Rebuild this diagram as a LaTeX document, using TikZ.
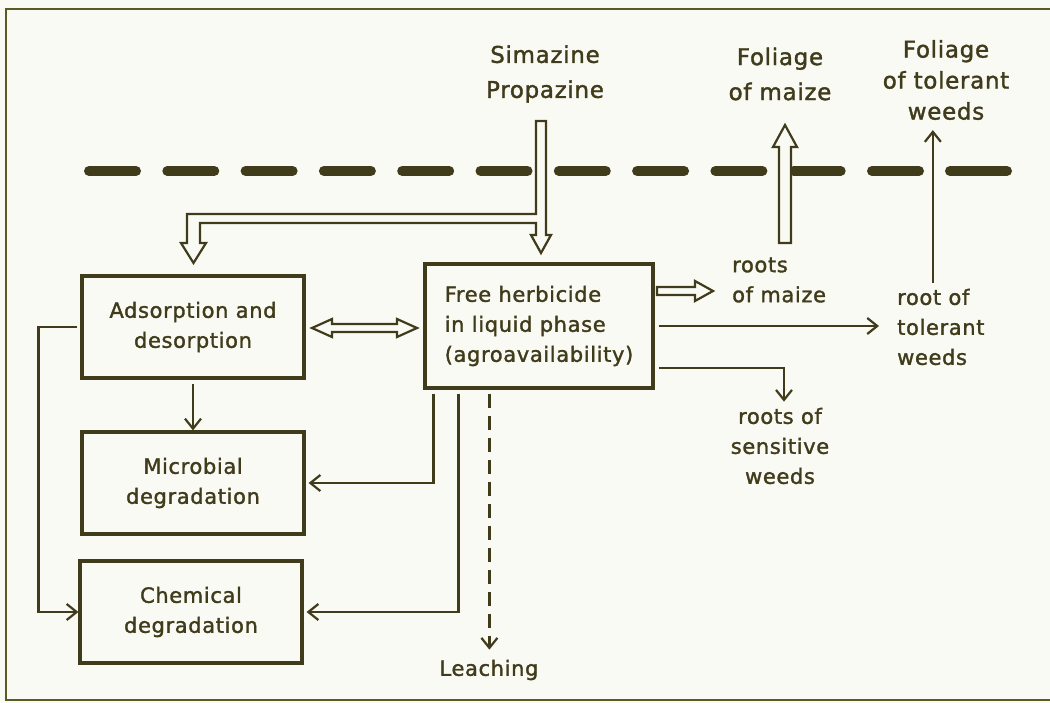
\documentclass[tikz,border=0pt]{standalone}
\usepackage{fontspec}
\setmainfont{DejaVu Sans}[LetterSpace=3,FakeBold=1.5]
\usetikzlibrary{arrows.meta}
\definecolor{ink}{HTML}{403B1A}
\definecolor{frame}{HTML}{5A5A24}
\definecolor{paper}{HTML}{FAFAF5}
\begin{document}
\begin{tikzpicture}[x=1pt,y=-1pt,
  box/.style={draw=ink, line width=3.2pt, minimum width=222pt, minimum height=102pt, align=center, inner sep=0pt, font=\fontsize{21}{30}\selectfont, text=ink},
  lbl/.style={text=ink, align=center, inner sep=0pt, font=\fontsize{21}{30}\selectfont},
  toplbl/.style={text=ink, align=center, inner sep=0pt, font=\fontsize{23}{35}\selectfont},
  thinarrow/.style={draw=ink, line width=2.2pt, -{Straight Barb[length=10pt,width=16pt,line width=2.2pt]}},
  hollow/.style={draw=ink, line width=2.2pt, fill=paper, line join=miter},
  soil/.style={draw=ink, line width=10pt, line cap=round}]
\useasboundingbox (0,0) rectangle (1050,703);
\fill[paper] (0,0) rectangle (1050,703);
% frame
\draw[frame, line width=2.4pt] (1050,9) -- (6,9) -- (6,700) -- (1050,700);
% soil surface
\foreach \k in {0,...,10} \draw[soil] ({89+78.3*\k},171) -- ++(47,0);
\draw[soil] (950,171) -- (1007,171);
% boxes
\node[box] (ads) at (193,327) {Adsorption and\\desorption};
\node[box] (mic) at (193,483) {Microbial\\degradation};
\node[box] (che) at (191,612) {Chemical\\degradation};
\node[box, minimum width=228pt, minimum height=124pt, align=left] (free) at (539,326) {Free herbicide\\in liquid phase\\(agroavailability)};
% labels
\node[toplbl] (sim) at (545,74) {Simazine\\Propazine};
\node[toplbl] (folm) at (780,74) {Foliage\\of maize};
\node[toplbl, font=\fontsize{23}{31}\selectfont] (folt) at (946,80) {Foliage\\of tolerant\\weeds};
\node[lbl, align=left, anchor=west] (rmaize) at (732,280) {roots\\of maize};
\node[lbl, align=left, anchor=west] (rtol) at (897,327) {root of\\tolerant\\weeds};
\node[lbl] (rsens) at (780,446) {roots of\\sensitive\\weeds};
\node[lbl] (leach) at (489,670) {Leaching};
% hollow arrows
\draw[hollow] (536,121) -- (546,121) -- (546,235) -- (551,235) -- (541,253) -- (531,235) -- (536,235) -- (536,223)
   -- (200,223) -- (200,243) -- (206,243) -- (193.5,263) -- (181,243) -- (187,243) -- (187,214) -- (536,214) -- cycle;
\draw[hollow] (779,243) -- (791,243) -- (791,147) -- (797,147) -- (785,125) -- (773,147) -- (779,147) -- cycle;
\draw[hollow] (657,287) -- (695,287) -- (695,281) -- (713,291) -- (695,301) -- (695,295) -- (657,295) -- cycle;
\draw[hollow] (312,328) -- (332,319) -- (332,324) -- (397,324) -- (397,319) -- (417,328) -- (397,337) -- (397,332) -- (332,332) -- (332,337) -- cycle;
% thin connectors
\draw[thinarrow] ([yshift=-4pt]ads.south) -- (mic.north);
\draw[thinarrow] ([xshift=-3pt]ads.west) -- ++(-39,0) |- (che.west);
\draw[thinarrow] ([xshift=10pt,yshift=-4pt]free.south west) |- ([xshift=3pt]mic.east);
\draw[thinarrow] ([xshift=35pt,yshift=-4pt]free.south west) |- ([xshift=3pt]che.east);
\draw[thinarrow, dashed, dash pattern=on 14pt off 8pt] ([xshift=66pt,yshift=-4pt]free.south west) coordinate (lt) -- ([yshift=10pt]lt |- leach.north);
\draw[thinarrow] ([xshift=4pt]free.east) -- ([xshift=-18pt]free.east -| rtol.west);
\draw[thinarrow] ([xshift=4pt,yshift=-42pt]free.east) -| ([xshift=4pt,yshift=6pt]rsens.north);
\draw[thinarrow] ([xshift=-8pt,yshift=6pt]rtol.north) -- ([xshift=-8pt,yshift=-10pt]rtol.north |- folt.south);
\end{tikzpicture}
\end{document}
